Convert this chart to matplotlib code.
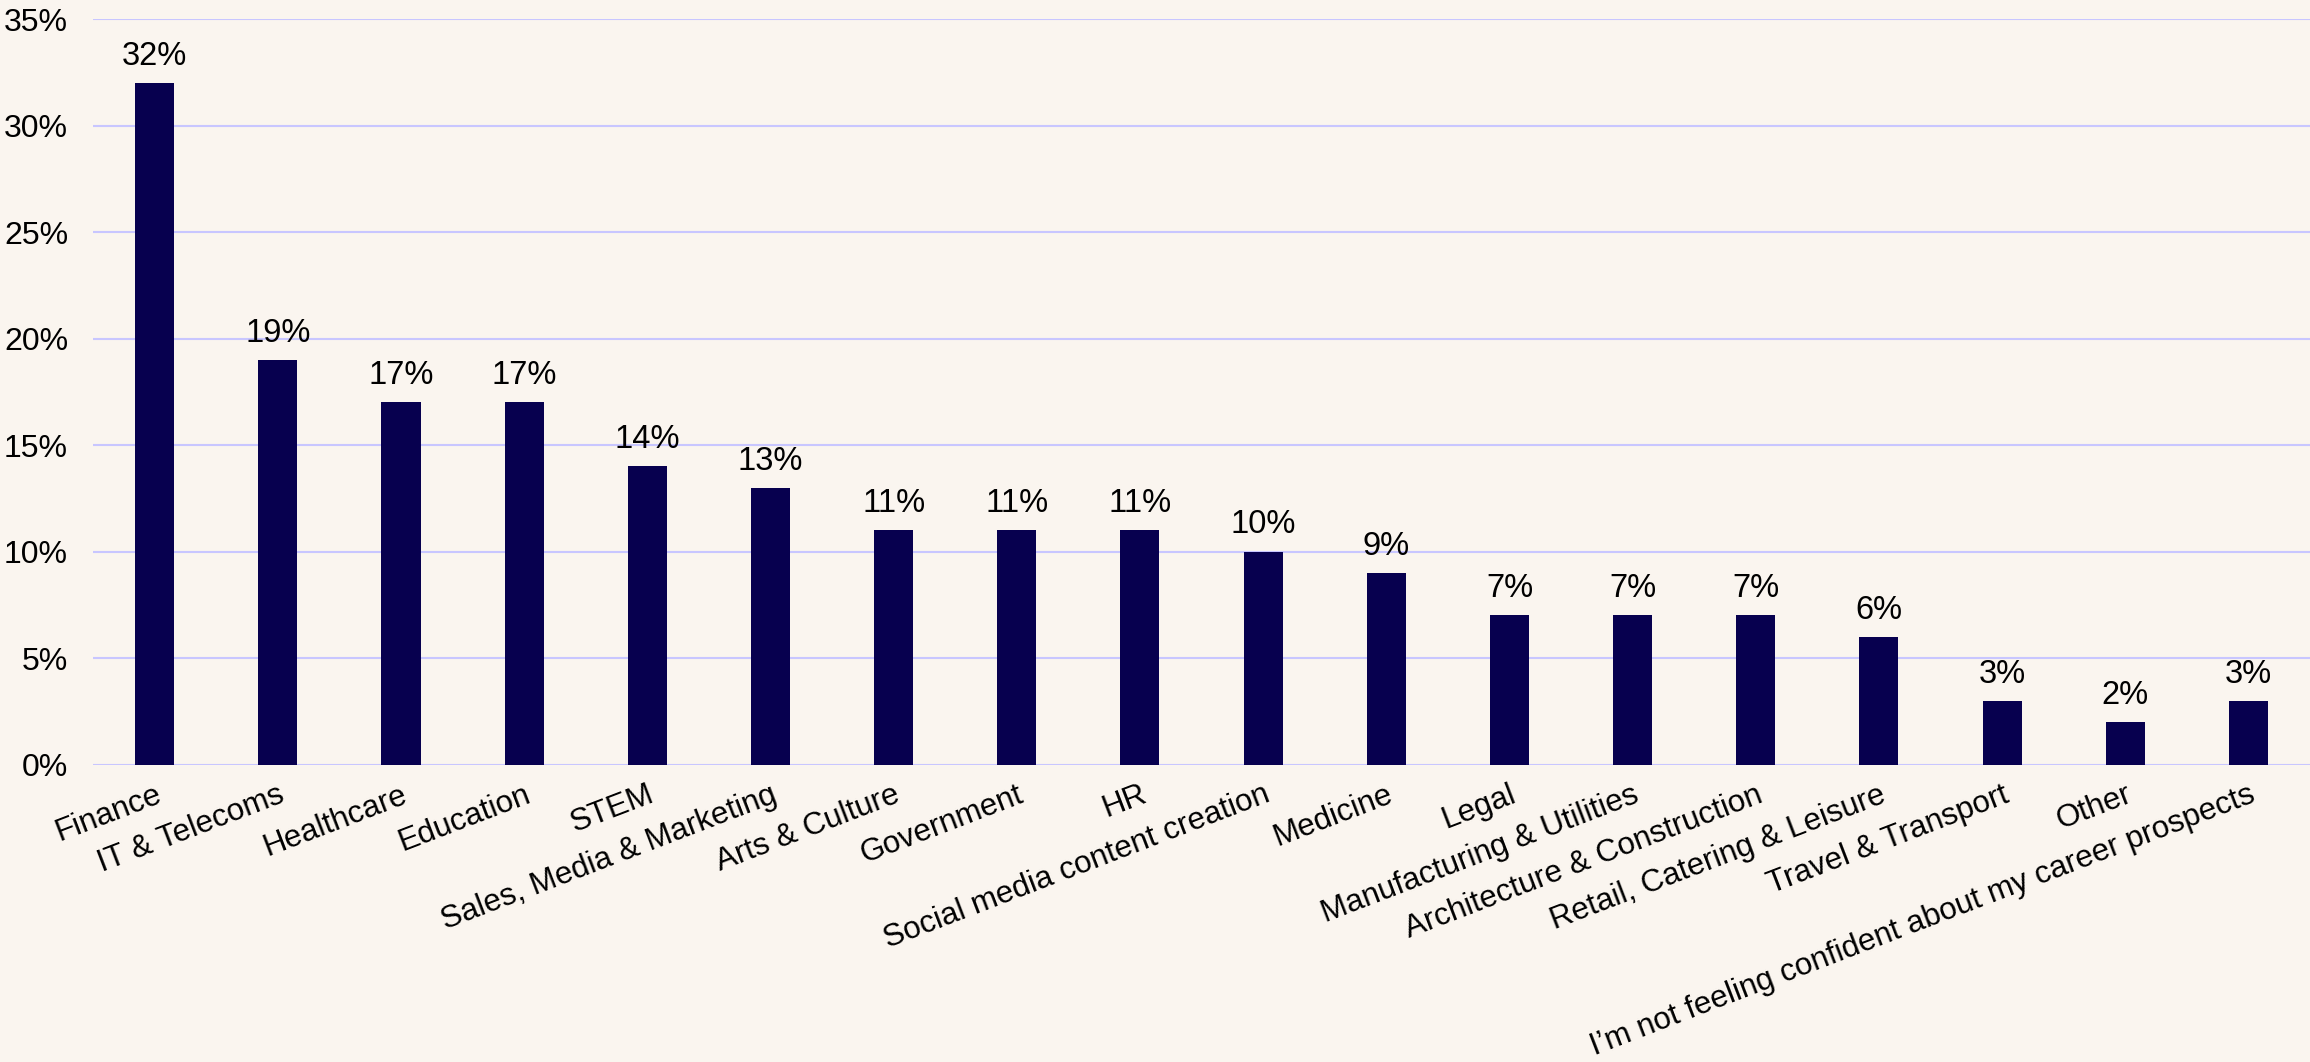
import matplotlib.pyplot as plt

# sectors and share of respondents (%)
sectors = ["Finance", "IT & Telecoms", "Healthcare", "Education", "STEM",
           "Sales, Media & Marketing", "Arts & Culture", "Government", "HR",
           "Social media content creation", "Medicine", "Legal",
           "Manufacturing & Utilities", "Architecture & Construction",
           "Retail, Catering & Leisure", "Travel & Transport", "Other",
           "I\u2019m not feeling confident about my career prospects"]
shares = [32, 19, 17, 17, 14, 13, 11, 11, 11, 10, 9, 7, 7, 7, 6, 3, 2, 3]
yticks = [0, 5, 10, 15, 20, 25, 30, 35]

bg = "#FAF5EF"
plt.rcParams['font.family'] = ['Liberation Sans', 'DejaVu Sans']

fig = plt.figure(figsize=(23.1, 10.62), dpi=100, facecolor=bg)
ax = fig.add_axes([0.0403, 0.2801, 0.9597, 0.7019])
ax.set_facecolor(bg)

x = range(len(sectors))
bars = ax.bar(x, shares, width=0.317, color="#07004F", zorder=3)

# value labels above bars
for b, v in zip(bars, shares):
    ax.annotate("%d%%" % v, (b.get_x() + b.get_width() / 2, v),
                xytext=(0, 8), textcoords="offset points",
                ha="center", va="bottom", fontsize=23.5, color="black")

ax.set_xlim(-0.5, len(sectors) - 0.5)
ax.set_ylim(0, 35)
ax.set_yticks(yticks)
ax.set_yticklabels(["%d%%" % t for t in yticks], fontsize=23)
ax.set_xticks(list(x))
ax.set_xticklabels(sectors, fontsize=22.5, rotation=21, ha="right",
                   va="top", rotation_mode="anchor")
ax.tick_params(axis="both", length=0)
ax.tick_params(axis="y", pad=18)
ax.tick_params(axis="x", pad=11)

ax.grid(axis="y", color="#C8C6FF", linewidth=1.5, zorder=0)
ax.set_axisbelow(True)
for s in ax.spines.values():
    s.set_visible(False)

fig.savefig("out.png", dpi=100, facecolor=bg)
